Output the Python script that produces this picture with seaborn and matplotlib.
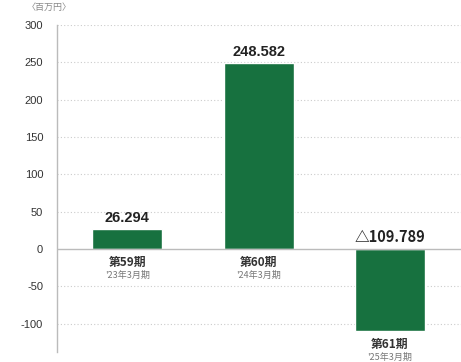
import matplotlib
matplotlib.use("Agg")
import matplotlib.pyplot as plt
import seaborn as sns
import pandas as pd

periods = ["第59期", "第60期", "第61期"]
fiscal = ["'23年3月期", "'24年3月期", "'25年3月期"]
values = [26.294, 248.582, -109.789]
value_labels = ["26.294", "248.582", "△109.789"]
yticks = [300, 250, 200, 150, 100, 50, 0, -50, -100]

sns.set_style("white")
plt.rcParams['font.family'] = ['Noto Sans CJK JP', 'DejaVu Sans']

df = pd.DataFrame({"period": periods, "value": values})

fig = plt.figure(figsize=(4.61, 3.62), dpi=100)
ax = fig.add_axes([57/461, 1 - 352/362, 1 - 57/461, (352 - 25)/362])

green = "#17713f"
sns.barplot(data=df, x="period", y="value", color=green, width=0.535, ax=ax,
            saturation=1)

ax.set_ylim(-138, 300)
ax.set_xlim(-0.535, 2.54)
ax.set_yticks(yticks)
ax.set_yticklabels([str(t) for t in yticks], fontsize=8, color="#333333",
                   family=['Liberation Sans', 'DejaVu Sans'])
ax.tick_params(axis='y', length=0, pad=10)
ax.set_xticks([])
ax.set_xlabel("")
ax.set_ylabel("")

for t in yticks:
    if t != 0:
        ax.axhline(t, color="#cccccc", lw=0.8, ls=(0, (1, 2)), zorder=0)
ax.axhline(0, color="#bbbbbb", lw=1.0, zorder=3)

for s in ["top", "right", "bottom"]:
    ax.spines[s].set_visible(False)
ax.spines["left"].set_color("#bbbbbb")
ax.spines["left"].set_linewidth(1.0)

for i, (v, lab) in enumerate(zip(values, value_labels)):
    ax.annotate(lab, (i, max(v, 0)), xytext=(0, 3), textcoords="offset points",
                ha="center", va="bottom", fontsize=10.5, fontweight="bold",
                color="#222222",
                family=['Liberation Sans', 'DejaVu Sans'] if v >= 0 else ['Noto Sans CJK JP', 'DejaVu Sans'])
    base = min(v, 0)
    ax.annotate(periods[i], (i, base), xytext=(0, -5), textcoords="offset points",
                ha="center", va="top", fontsize=8.5, fontweight="bold", color="#333333")
    ax.annotate(fiscal[i], (i, base), xytext=(0, -15.5), textcoords="offset points",
                ha="center", va="top", fontsize=6.5, color="#777777")

fig.text(27/461, 1 - 7/362, "〈百万円〉", fontsize=6.5, color="#888888",
         ha="left", va="center")

fig.savefig("out.png", dpi=100)
